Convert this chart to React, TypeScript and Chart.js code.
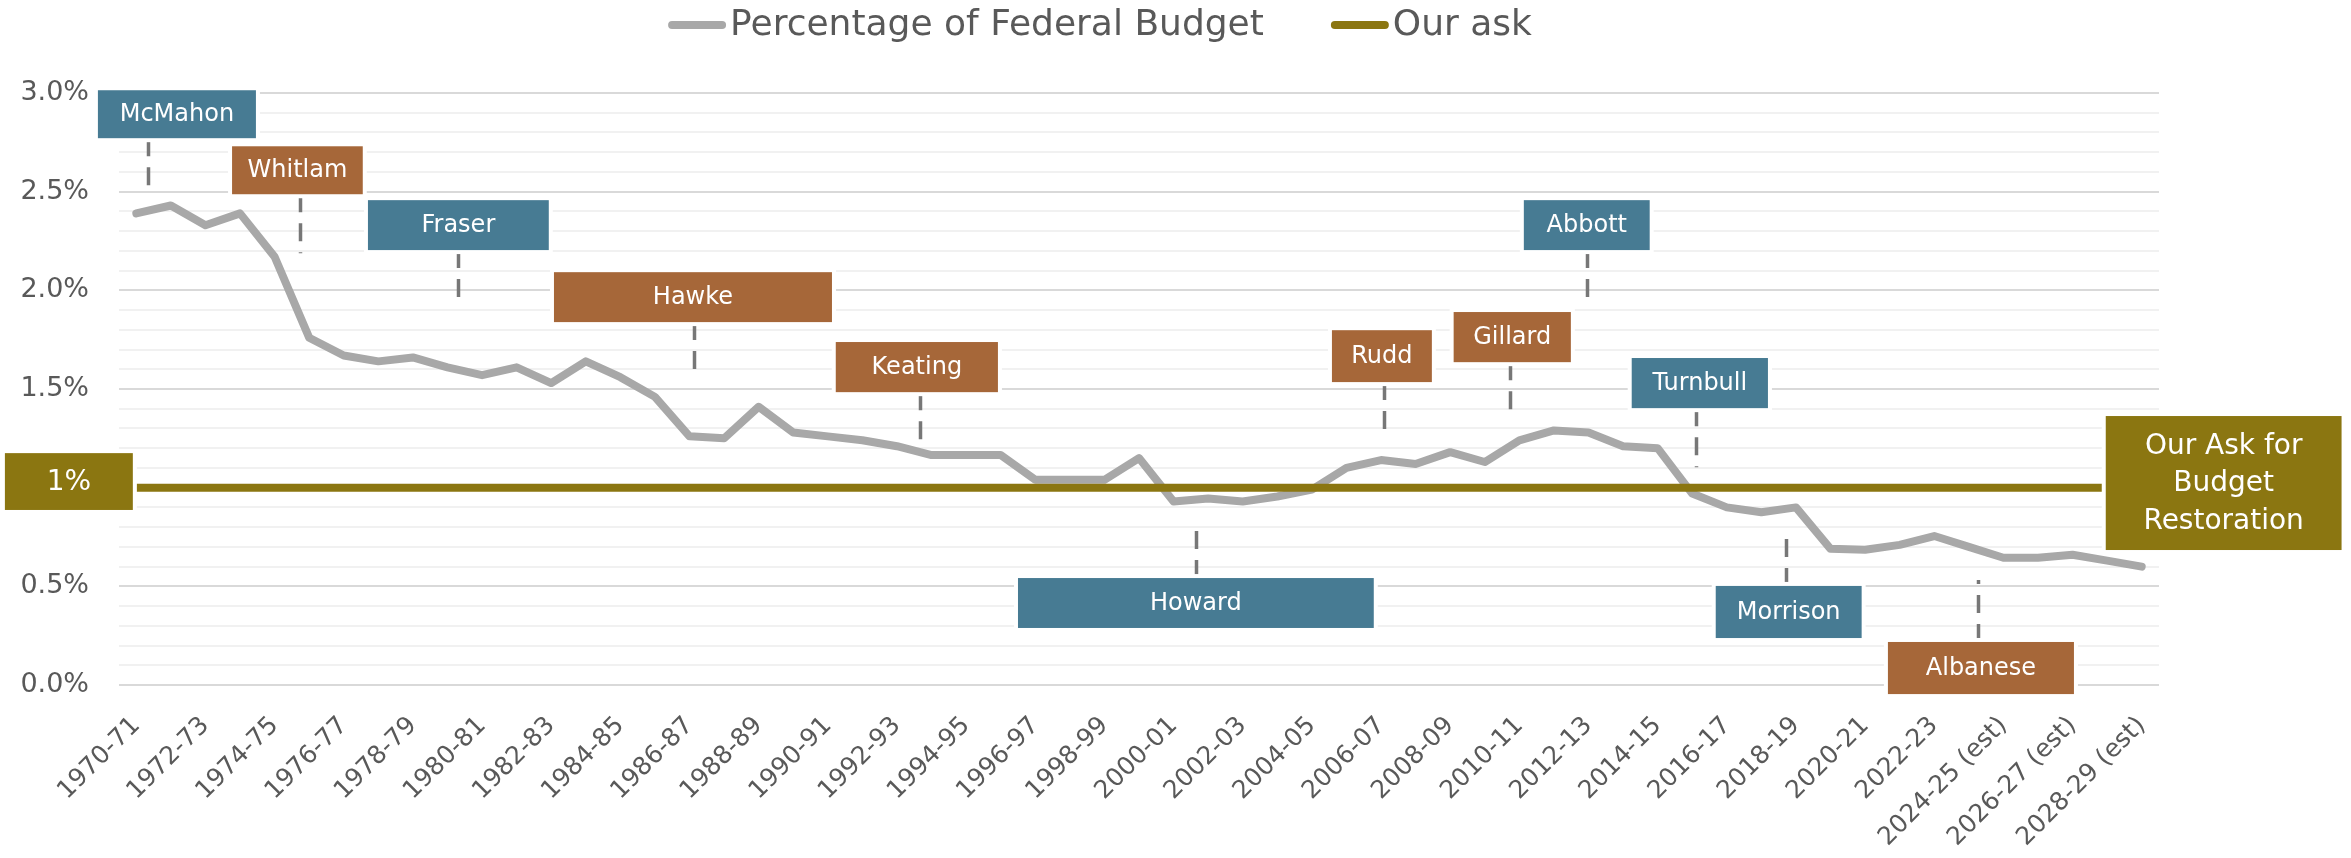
import React, { useEffect, useRef } from "react";
import { Chart, registerables } from "chart.js";

Chart.register(...registerables);

const categories = [
  "1970-71", "1971-72", "1972-73", "1973-74", "1974-75", "1975-76", "1976-77", "1977-78", "1978-79", "1979-80",
  "1980-81", "1981-82", "1982-83", "1983-84", "1984-85", "1985-86", "1986-87", "1987-88", "1988-89", "1989-90",
  "1990-91", "1991-92", "1992-93", "1993-94", "1994-95", "1995-96", "1996-97", "1997-98", "1998-99", "1999-00",
  "2000-01", "2001-02", "2002-03", "2003-04", "2004-05", "2005-06", "2006-07", "2007-08", "2008-09", "2009-10",
  "2010-11", "2011-12", "2012-13", "2013-14", "2014-15", "2015-16", "2016-17", "2017-18", "2018-19", "2019-20",
  "2020-21", "2021-22", "2022-23", "2023-24", "2024-25 (est)", "2025-26 (est)", "2026-27 (est)", "2027-28 (est)", "2028-29 (est)",
];

const federalBudgetPct = [
  2.39, 2.43, 2.33, 2.39, 2.17, 1.76, 1.67, 1.64, 1.66, 1.61,
  1.57, 1.61, 1.53, 1.64, 1.56, 1.46, 1.26, 1.25, 1.41, 1.28,
  1.26, 1.24, 1.21, 1.165, 1.165, 1.165, 1.04, 1.04, 1.04, 1.15,
  0.93, 0.945, 0.93, 0.955, 0.99, 1.1, 1.14, 1.12, 1.18, 1.13,
  1.24, 1.29, 1.28, 1.21, 1.2, 0.97, 0.9, 0.875, 0.9, 0.69,
  0.685, 0.71, 0.755, 0.7, 0.645, 0.645, 0.66, 0.63, 0.6,
];

const ourAsk = [
  1, 1, 1, 1, 1, 1, 1, 1, 1, 1,
  1, 1, 1, 1, 1, 1, 1, 1, 1, 1,
  1, 1, 1, 1, 1, 1, 1, 1, 1, 1,
  1, 1, 1, 1, 1, 1, 1, 1, 1, 1,
  1, 1, 1, 1, 1, 1, 1, 1, 1, 1,
  1, 1, 1, 1, 1, 1, 1, 1, 1,
];

const seriesLabels = ["Percentage of Federal Budget", "Our ask"];

// Prime-minister annotations (positions in data units: category index / percent)
const pmNames = ["McMahon", "Whitlam", "Fraser", "Hawke", "Keating", "Howard", "Rudd", "Gillard", "Abbott", "Turnbull", "Morrison", "Albanese"];
const pmParty = ["lib", "lab", "lib", "lab", "lab", "lib", "lab", "lab", "lib", "lib", "lib", "lab"];
// [xStart, xEnd, yTop, yBottom, leaderX, leaderEnd]
const pmBoxes = [
  [-1.11, 3.46, 3.014, 2.771, 0.34, 2.48],
  [2.77, 6.55, 2.73, 2.487, 4.73, 2.188],
  [6.7, 11.93, 2.457, 2.204, 9.3, 1.915],
  [12.08, 20.12, 2.092, 1.839, 16.13, 1.581],
  [20.23, 24.92, 1.738, 1.484, 22.66, 1.216],
  [25.5, 35.79, 0.542, 0.289, 30.64, 0.836],
  [34.58, 37.47, 1.798, 1.535, 36.08, 1.246],
  [38.1, 41.49, 1.89, 1.636, 39.72, 1.347],
  [40.13, 43.77, 2.457, 2.204, 41.95, 1.925],
  [43.25, 47.19, 1.657, 1.403, 45.1, 1.104],
  [45.68, 49.9, 0.502, 0.238, 47.71, 0.785],
  [50.66, 56.04, 0.218, -0.046, 53.26, 0.532],
];

const askBoxTexts = [["1%"], ["Our Ask for", "Budget", "Restoration"]];
const askBoxes = [
  [-3.8, -0.1, 1.175, 0.887],
  [56.96, 63.78, 1.363, 0.684],
];

const COLORS = {
  lib: "#477B93",
  lab: "#A66739",
  olive: "#8B7611",
  grey: "#A8A8A8",
  leader: "#777777",
  text: "#595959",
  gridMajor: "#D9D9D9",
  gridMinor: "#F1F1F1",
};
const FONT = "'DejaVu Sans', sans-serif";

const annotationPlugin = {
  id: "pmAnnotations",
  afterDatasetsDraw(chart: any) {
    const { ctx, scales } = chart;
    const x = scales.x;
    const y = scales.y;
    ctx.save();
    // leader lines
    ctx.strokeStyle = COLORS.leader;
    ctx.lineWidth = 3.5;
    ctx.setLineDash([18, 11]);
    pmBoxes.forEach((b) => {
      const lx = Math.round(x.getPixelForValue(b[4])) + 0.5;
      const top = y.getPixelForValue(b[2]);
      const bot = y.getPixelForValue(b[3]);
      const end = y.getPixelForValue(b[5]);
      const start = end > bot ? bot : top;
      ctx.beginPath();
      ctx.moveTo(lx, start);
      ctx.lineTo(lx, end);
      ctx.stroke();
    });
    ctx.setLineDash([]);

    const drawBox = (b: number[], color: string, lines: string[], size: number, lh: number) => {
      const x0 = x.getPixelForValue(b[0]);
      const x1 = x.getPixelForValue(b[1]);
      const y0 = y.getPixelForValue(b[2]);
      const y1 = y.getPixelForValue(b[3]);
      ctx.fillStyle = "#FFFFFF";
      ctx.fillRect(x0 - 4, y0 - 4, x1 - x0 + 8, y1 - y0 + 8);
      ctx.fillStyle = color;
      ctx.fillRect(x0, y0, x1 - x0, y1 - y0);
      ctx.fillStyle = "#FFFFFF";
      ctx.font = `${size}px ${FONT}`;
      ctx.textAlign = "center";
      ctx.textBaseline = "middle";
      const cx = (x0 + x1) / 2;
      const cy = (y0 + y1) / 2;
      lines.forEach((t, i) => {
        ctx.fillText(t, cx, cy + (i - (lines.length - 1) / 2) * lh + 1);
      });
    };

    pmBoxes.forEach((b, i) => {
      drawBox(b, pmParty[i] === "lib" ? COLORS.lib : COLORS.lab, [pmNames[i]], 24, 30);
    });
    askBoxes.forEach((b, i) => {
      drawBox(b, COLORS.olive, askBoxTexts[i], 28, 37.5);
    });
    ctx.restore();
  },
  afterDraw(chart: any) {
    const { ctx } = chart;
    ctx.save();
    ctx.font = `36px ${FONT}`;
    ctx.textBaseline = "middle";
    ctx.textAlign = "left";
    const items = chart.data.datasets.map((d: any) => ({ label: d.label, color: d.borderColor }));
    const swatch = 58;
    const gap = 4;
    const itemGap = 67;
    const widths = items.map((it: any) => swatch + gap + ctx.measureText(it.label).width);
    const total = widths.reduce((a: number, b: number) => a + b, 0) + itemGap * (items.length - 1);
    let cx = 1100 - total / 2;
    const cy = 25;
    items.forEach((it: any, i: number) => {
      ctx.strokeStyle = it.color;
      ctx.lineWidth = 8;
      ctx.lineCap = "round";
      ctx.beginPath();
      ctx.moveTo(cx + 4, cy);
      ctx.lineTo(cx + swatch - 4, cy);
      ctx.stroke();
      ctx.fillStyle = COLORS.text;
      ctx.fillText(it.label, cx + swatch + gap, cy + 1);
      cx += widths[i] + itemGap;
    });
    ctx.restore();
  },
};

const isMajor = (v: number) => Math.abs(v * 2 - Math.round(v * 2)) < 1e-6;

export default function App() {
  const canvasRef = useRef<HTMLCanvasElement | null>(null);

  useEffect(() => {
    const canvas = canvasRef.current;
    if (!canvas) return;
    const chart = new Chart(canvas, {
      type: "line",
      data: {
        labels: categories,
        datasets: [
          {
            label: seriesLabels[0],
            data: federalBudgetPct,
            borderColor: COLORS.grey,
            backgroundColor: COLORS.grey,
            borderWidth: 8,
            pointRadius: 0,
            tension: 0,
            borderCapStyle: "round",
            borderJoinStyle: "round",
            order: 1,
          },
          {
            label: seriesLabels[1],
            data: ourAsk,
            borderColor: COLORS.olive,
            backgroundColor: COLORS.olive,
            borderWidth: 8,
            pointRadius: 0,
            tension: 0,
            borderCapStyle: "butt",
            order: 0,
          },
        ],
      },
      options: {
        responsive: false,
        animation: false,
        events: [],
        layout: { padding: { top: 93, right: 192, left: 0, bottom: 0 } },
        font: { family: FONT },
        plugins: {
          legend: { display: false },
          tooltip: { enabled: false },
        },
        scales: {
          x: {
            offset: true,
            grid: { display: false, offset: true },
            border: { display: false },
            ticks: {
              autoSkip: false,
              minRotation: 45,
              maxRotation: 45,
              padding: 18,
              color: COLORS.text,
              font: { family: FONT, size: 25 },
              callback: (_v: any, i: number) => (i % 2 === 0 ? categories[i] : ""),
            },
            afterFit: (s: any) => {
              s.height = 173;
            },
          },
          y: {
            min: 0,
            max: 3,
            grid: {
              drawTicks: false,
              lineWidth: 2,
              color: (c: any) => (c.tick && isMajor(c.tick.value) ? COLORS.gridMajor : COLORS.gridMinor),
            },
            border: { display: false },
            ticks: {
              stepSize: 0.1,
              autoSkip: false,
              padding: 30,
              color: COLORS.text,
              font: { family: FONT, size: 27 },
              callback: (v: any) => (isMajor(Number(v)) ? Number(v).toFixed(1) + "%" : ""),
            },
            afterFit: (s: any) => {
              s.width = 119;
            },
          },
        },
      } as any,
      plugins: [annotationPlugin],
    });
    return () => chart.destroy();
  }, []);

  return (
    <div style={{ position: "fixed", left: 0, top: 0, width: 2351, height: 858, background: "#FFFFFF" }}>
      <canvas ref={canvasRef} width={2351} height={858} style={{ display: "block", width: 2351, height: 858 }} />
    </div>
  );
}
